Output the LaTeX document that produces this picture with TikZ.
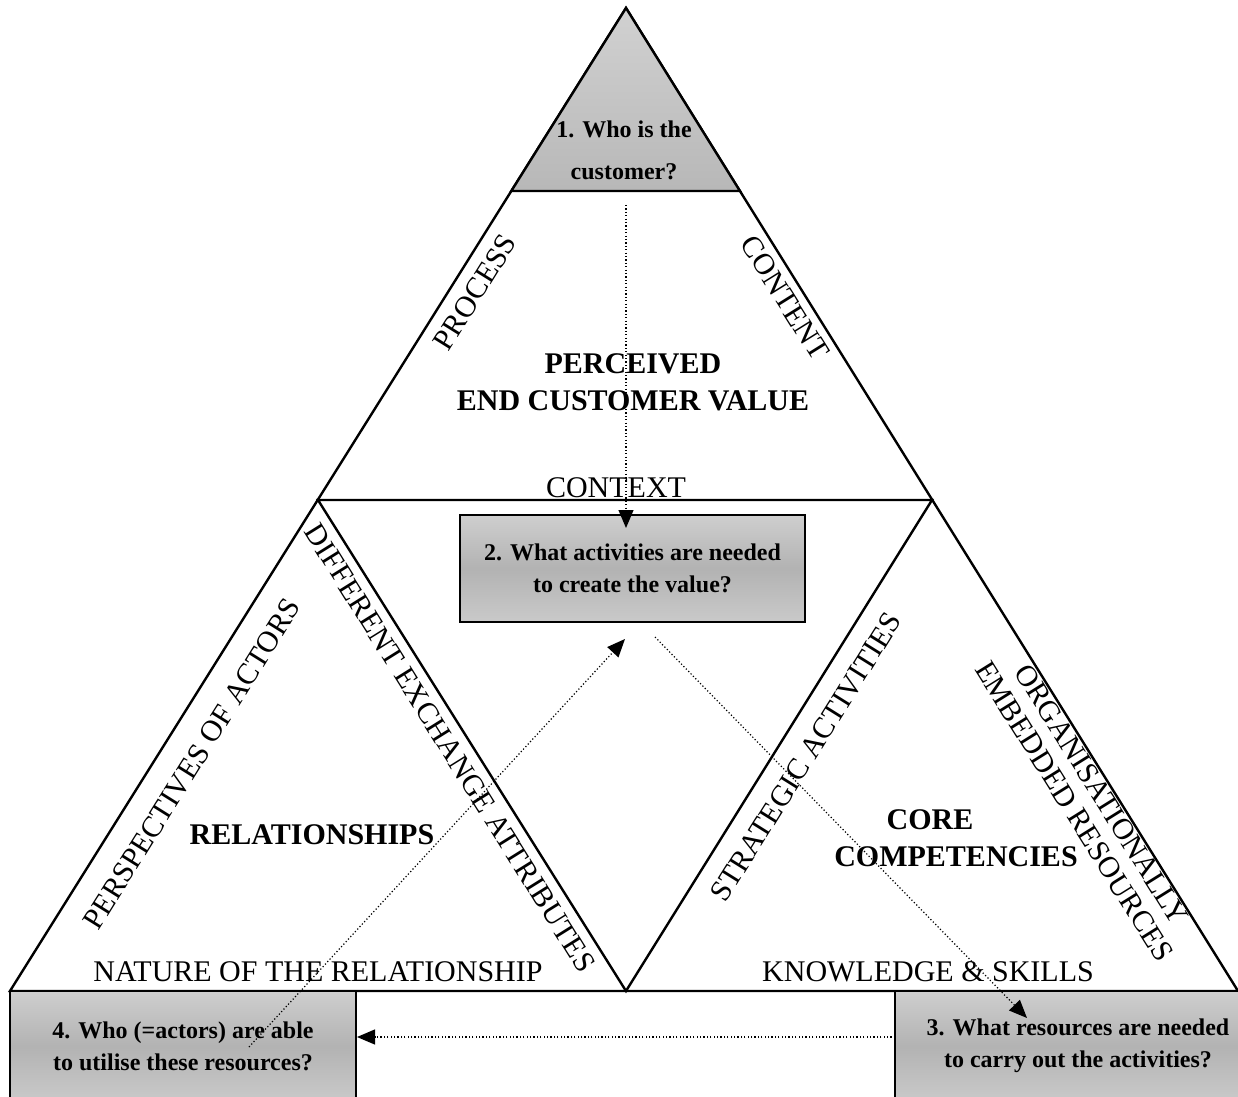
\documentclass[tikz,border=0pt]{standalone}
\usepackage{fontspec}
\setmainfont{Liberation Serif}
\usetikzlibrary{arrows.meta,calc}

\begin{document}
\begin{tikzpicture}[x=0.5pt,y=-0.5pt,
  edge/.style={line width=1.2pt, line join=miter},
  lbl/.style={font=\fontsize{15}{16}\selectfont, inner sep=0pt},
  title/.style={font=\fontsize{15}{18.5}\selectfont\bfseries, inner sep=0pt, align=center},
  qbox/.style={draw, line width=1pt, top color=black!19, bottom color=black!21, middle color=black!30,
               font=\fontsize{12}{16}\selectfont\bfseries, align=center, inner sep=0pt},
  flow/.style={line width=0.6pt, dash pattern=on 0.6pt off 1.1pt, -{Triangle[length=9pt,width=7.5pt]}},
]
\useasboundingbox (0,0) rectangle (1238,1097);

% outer triangle and the inner (inverted) triangle
\coordinate (A) at (626,8);
\coordinate (L) at (10,991);
\coordinate (R) at (1238,991);
\coordinate (ML) at (318,500);
\coordinate (MR) at (932,500);
\coordinate (MB) at (626,991);
\draw[edge] (A) -- (L) -- (R) -- cycle;
\draw[edge] (ML) -- (MR) -- (MB) -- cycle;

% shaded apex triangle
\coordinate (T1) at ($(A)!0.1862!(L)$);
\coordinate (T2) at ($(A)!0.1862!(R)$);
\draw[edge, top color=black!18, bottom color=black!28] (A) -- (T1) -- (T2) -- cycle;
\node[font=\fontsize{12}{21}\selectfont\bfseries, align=center, inner sep=0pt] (q1) at (624,150) {1. Who is the\\customer?};

% question boxes
\node[qbox, minimum width=172.5pt, minimum height=53.5pt] (q2) at (632.5,568.5) {2. What activities are needed\\to create the value?};
\node[qbox, minimum width=183pt, minimum height=55pt] (q3) at (1078,1046) {3. What resources are needed\\to carry out the activities?};
\node[qbox, minimum width=173pt, minimum height=55pt] (q4) at (183,1046) {4. Who (=actors) are able\\to utilise these resources?};

% dotted flow between the questions
\coordinate (s1) at (626,205);  \coordinate (e1) at (626,528);
\coordinate (s2) at (249,1047); \coordinate (e2) at (625,639);
\coordinate (s3) at (655,637);  \coordinate (e3) at (1027,1018);
\coordinate (s4) at (895,1037); \coordinate (e4) at (357,1037);
\draw[flow] (s1) -- (e1);
\draw[flow] (s2) -- (e2);
\draw[flow] (s3) -- (e3);
\draw[flow] (s4) -- (e4);

% top triangle labels
\node[lbl, rotate=58] (process) at (475,292) {PROCESS};
\node[lbl, rotate=-58] (content) at (785,298) {CONTENT};
\node[title] (pecv) at (633,382) {PERCEIVED\\END CUSTOMER VALUE};
\node[lbl] (context) at (616,488) {CONTEXT};

% left triangle labels
\node[lbl, rotate=58] (persp) at (192,764) {PERSPECTIVES OF ACTORS};
\node[lbl, rotate=-58] (diff) at (450,748) {DIFFERENT EXCHANGE ATTRIBUTES};
\node[title] (rel) at (312,835) {RELATIONSHIPS};
\node[lbl] (nature) at (318,972) {NATURE OF THE RELATIONSHIP};

% right triangle labels
\node[lbl, rotate=58] (strat) at (806,757) {STRATEGIC ACTIVITIES};
\node[lbl, rotate=-58, align=center] (org) at (1088,803) {ORGANISATIONALLY\\EMBEDDED RESOURCES};
\node[title] (core) at (930,820) {CORE};
\node[title] (comp) at (956,857) {COMPETENCIES};
\node[lbl] (know) at (928,972) {KNOWLEDGE \& SKILLS};
\end{tikzpicture}
\end{document}
